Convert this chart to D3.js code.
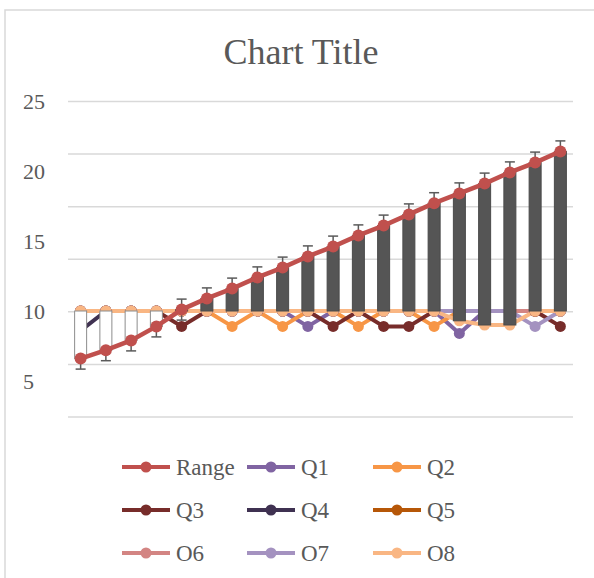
<!DOCTYPE html>
<html lang="en">
<head>
  <meta charset="UTF-8" />
  <title>Chart Title</title>
  <script src="https://d3js.org/d3.v7.min.js"></script>
  <style>
    body { margin: 0; background: #fff; }
    svg { display: block; }
    text { font-family: "Liberation Serif", "Times New Roman", serif; fill: #595959; }
  </style>
</head>
<body>
  <svg width="594" height="578"></svg>

  <script>
    // categories 1..20 (no labels shown on the x axis)
    const categories = d3.range(1, 21).map(String);

    // series values
    const range = [6.6, 7.2, 7.9, 8.9, 10.1, 10.9, 11.6, 12.4, 13.1, 13.9, 14.6, 15.4, 16.1, 16.9, 17.7, 18.4, 19.1, 19.9, 20.6, 21.4];
    const q1 = [10, 10, 10, 10, 10, 10, 10, 10, 10, 8.9, 10, 10, 10, 10, 10, 8.4, 10, 10, 10, 10];
    const q2 = [10, 10, 10, 10, 10, 10, 8.9, 10, 8.9, 10, 10, 8.9, 10, 10, 8.9, 10, 10, 10, 10, 10];
    const q3 = [10, 10, 10, 10, 8.9, 10, 10, 10, 10, 10, 8.9, 10, 8.9, 8.9, 10, 10, 10, 10, 10, 8.9];
    const q4 = [8.6, 10, 10, 10, 10, 10, 10, 10, 10, 10, 10, 10, 10, 10, 10, 10, 10, 10, 10, 10];
    const q5 = [10, 10, 10, 10, 10, 10, 10, 10, 10, 10, 10, 10, 10, 10, 10, 10, 10, 10, 10, 10];
    const o6 = [10, 10, 10, 10, 10, 10, 10, 10, 10, 10, 10, 10, 10, 10, 10, 10, 10, 10, 10, 10];
    const o7 = [10, 10, 10, 10, 10, 10, 10, 10, 10, 10, 10, 10, 10, 10, 10, 10, 10, 10, 8.9, 10];
    const o8 = [10, 10, 10, 10, 10, 10, 10, 10, 10, 10, 10, 10, 10, 10, 10, 9.3, 9.0, 9.0, 10, 10];
    const errorAmount = 0.75;

    const seriesNames = ["Range", "Q1", "Q2", "Q3", "Q4", "Q5", "O6", "O7", "O8"];
    const seriesValues = [range, q1, q2, q3, q4, q5, o6, o7, o8];
    const seriesColors = ["#c0504d", "#8064a2", "#f79646", "#772c2a", "#3f3151", "#b65708", "#d38583", "#a492c0", "#f9b683"];

    const yTicks = [5, 10, 15, 20, 25];

    const svg = d3.select("svg");

    // chart area border (only left/top edges fall inside the picture)
    svg.append("rect")
      .attr("x", 5).attr("y", 10)
      .attr("width", 620).attr("height", 620)
      .attr("fill", "#fff")
      .attr("stroke", "#d9d9d9")
      .attr("stroke-width", 1.5);

    svg.append("text")
      .attr("x", 301).attr("y", 64)
      .attr("text-anchor", "middle")
      .attr("font-size", 36)
      .text("Chart Title");

    const x = d3.scaleBand().domain(categories).range([68, 573]);
    const cx = c => x(c) + x.bandwidth() / 2;
    const y = d3.scaleLinear().domain([5, 25]).range([381, 101]);
    // gridlines follow their own (secondary) division of the plot
    const grid = d3.scaleLinear().domain([0, 6]).range([417, 101.5]);

    svg.append("g")
      .selectAll("line")
      .data(grid.ticks(6))
      .join("line")
      .attr("x1", 68).attr("x2", 573)
      .attr("y1", d => grid(d)).attr("y2", d => grid(d))
      .attr("stroke", "#d9d9d9")
      .attr("stroke-width", 1.5);

    // y labels
    svg.append("g")
      .attr("transform", "translate(23,0)")
      .call(d3.axisLeft(y).tickValues(yTicks).tickSize(0))
      .call(g => g.select(".domain").remove())
      .call(g => g.selectAll("text")
        .attr("x", 0)
        .attr("text-anchor", "start")
        .attr("font-size", 22)
        .attr("font-family", null)
        .style("fill", "#595959"));

    const line = d3.line()
      .x((d, i) => cx(categories[i]))
      .y(d => y(d));

    // Q / O series (drawn under the up-down bars)
    const others = d3.range(1, seriesNames.length);
    others.forEach(k => {
      svg.append("path")
        .datum(seriesValues[k])
        .attr("fill", "none")
        .attr("stroke", seriesColors[k])
        .attr("stroke-width", 4)
        .attr("stroke-linejoin", "round")
        .attr("d", line);
    });
    others.forEach(k => {
      svg.append("g")
        .selectAll("circle")
        .data(seriesValues[k])
        .join("circle")
        .attr("cx", (d, i) => cx(categories[i]))
        .attr("cy", d => y(d))
        .attr("r", 5.5)
        .attr("fill", seriesColors[k]);
    });

    // error bars on Range
    const eb = svg.append("g").attr("stroke", "#5a5a5a").attr("stroke-width", 1.5);
    range.forEach((v, i) => {
      const px = cx(categories[i]);
      eb.append("line").attr("x1", px).attr("x2", px).attr("y1", y(v - errorAmount)).attr("y2", y(v + errorAmount));
      [v - errorAmount, v + errorAmount].forEach(e => {
        eb.append("line").attr("x1", px - 5).attr("x2", px + 5).attr("y1", y(e)).attr("y2", y(e));
      });
    });

    // up-down bars between first (Range) and last (O8) series
    const barW = 12;
    svg.append("g")
      .selectAll("rect")
      .data(range.map((v, i) => ({ c: categories[i], first: v, last: o8[i] })))
      .join("rect")
      .attr("x", d => cx(d.c) - barW / 2)
      .attr("width", barW)
      .attr("y", d => y(Math.max(d.first, d.last)))
      .attr("height", d => Math.abs(y(d.first) - y(d.last)))
      .attr("fill", d => d.last > d.first ? "#fff" : "#555")
      .attr("stroke", d => d.last > d.first ? "#8c8c8c" : "#4a4a4a")
      .attr("stroke-width", 1);

    // Range on top
    svg.append("path")
      .datum(range)
      .attr("fill", "none")
      .attr("stroke", seriesColors[0])
      .attr("stroke-width", 4.5)
      .attr("d", line);
    svg.append("g")
      .selectAll("circle")
      .data(range)
      .join("circle")
      .attr("cx", (d, i) => cx(categories[i]))
      .attr("cy", d => y(d))
      .attr("r", 6)
      .attr("fill", seriesColors[0]);

    // legend, 3 columns x 3 rows
    const legendCols = [122, 247, 373];
    const legendRows = [467, 510, 553];
    const legend = svg.append("g")
      .selectAll("g")
      .data(seriesNames)
      .join("g")
      .attr("transform", (d, i) => `translate(${legendCols[i % 3]},${legendRows[Math.floor(i / 3)]})`);
    legend.append("line")
      .attr("x1", 0).attr("x2", 48)
      .attr("stroke", (d, i) => seriesColors[i])
      .attr("stroke-width", 4);
    legend.append("circle")
      .attr("cx", 24).attr("r", 5.5)
      .attr("fill", (d, i) => seriesColors[i]);
    legend.append("text")
      .attr("x", 54).attr("dy", "0.35em")
      .attr("font-size", 23)
      .text(d => d);
  </script>
</body>
</html>
